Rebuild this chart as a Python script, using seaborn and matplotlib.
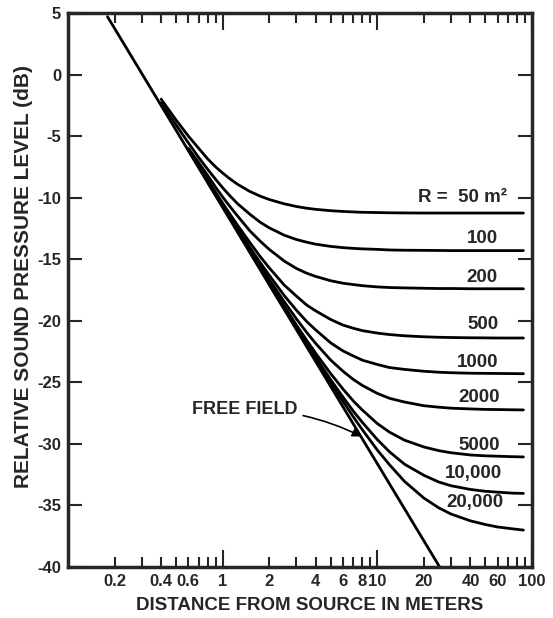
import numpy as np
import matplotlib
matplotlib.use("Agg")
import matplotlib.pyplot as plt
import seaborn as sns
import pandas as pd

dist = [0.2, 0.25, 0.3, 0.4, 0.5, 0.6, 0.7, 0.8, 0.9, 1, 1.1, 1.25, 1.5, 1.75, 2,
        2.5, 3, 3.5, 4, 5, 6, 7, 8, 10, 12, 15, 20, 25, 30, 40, 50, 60, 75, 88]

N = None
r50 = [N] * 3 + [-2.0, -3.7, -5.0, -6.0, -6.85, -7.5, -8.0, -8.42, -8.92, -9.5, -9.88,
                 -10.15, -10.5, -10.72, -10.86, -10.95, -11.06, -11.12, -11.16, -11.19,
                 -11.21, -11.23, -11.24, -11.25, -11.25, -11.25, -11.25, -11.25, -11.25,
                 -11.25, -11.25]
r100 = [N] * 3 + [-2.3, -4.1, -5.55, -6.74, -7.7, -8.51, -9.2, -9.78, -10.5, -11.35, -12.0,
                  -12.45, -13.05, -13.4, -13.62, -13.78, -13.96, -14.06, -14.12, -14.16,
                  -14.2, -14.25, -14.27, -14.28, -14.29, -14.3, -14.3, -14.3, -14.3,
                  -14.3, -14.3]
r200 = [N] * 5 + [-6.0, -7.16, -8.2, -9.15, -9.95, -10.63, -11.5, -12.7, -13.54, -14.2,
                  -15.15, -15.75, -16.14, -16.4, -16.75, -16.95, -17.06, -17.15, -17.25,
                  -17.3, -17.33, -17.36, -17.38, -17.38, -17.4, -17.4, -17.4, -17.4, -17.4]
r500 = [N] * 5 + [-6.1, -7.4, -8.55, -9.56, -10.45, -11.23, -12.25, -13.65, -14.79, -15.7,
                  -17.1, -18.0, -18.73, -19.2, -19.9, -20.35, -20.61, -20.8, -21.0,
                  -21.12, -21.22, -21.3, -21.34, -21.36, -21.38, -21.39, -21.4, -21.4, -21.4]
r1000 = [N] * 5 + [-6.15, -7.49, -8.65, -9.7, -10.6, -11.43, -12.5, -14.05, -15.28, -16.3,
                   -17.95, -19.15, -20.07, -20.75, -21.8, -22.45, -22.86, -23.2, -23.55,
                   -23.8, -23.95, -24.1, -24.18, -24.22, -24.26, -24.27, -24.28, -24.29,
                   -24.3]
r2000 = [N] * 7 + [-8.75, -9.77, -10.7, -11.54, -12.65, -14.25, -15.55, -16.65, -18.45,
                   -19.85, -20.96, -21.85, -23.2, -24.1, -24.77, -25.25, -25.9, -26.3,
                   -26.6, -26.9, -27.02, -27.1, -27.16, -27.2, -27.21, -27.23, -27.24]
r5000 = [N] * 11 + [-12.75, -14.35, -15.73, -16.9, -18.8, -20.35, -21.6, -22.65, -24.3,
                    -25.55, -26.52, -27.25, -28.35, -29.05, -29.7, -30.25, -30.55, -30.72,
                    -30.9, -30.97, -31.0, -31.04, -31.06]
r10000 = [N] * 12 + [-14.4, -15.8, -17.0, -18.95, -20.5, -21.85, -22.95, -24.8, -26.2,
                     -27.35, -28.25, -29.65, -30.65, -31.65, -32.55, -33.1, -33.4, -33.7,
                     -33.85, -33.92, -34.0, -34.02]
r20000 = [N] * 14 + [-17.05, -19.0, -20.6, -21.98, -23.15, -25.05, -26.55, -27.81, -28.85,
                     -30.5, -31.7, -33.05, -34.4, -35.2, -35.7, -36.25, -36.55, -36.75,
                     -36.9, -37.0]

# free field line (ends)
ff_dist = [0.18, 25.3]
ff_level = [4.7, -40.0]

curve_names = ["50", "100", "200", "500", "1000", "2000", "5000", "10000", "20000"]
curve_labels = ["R =  50 m\u00b2", "100", "200", "500", "1000", "2000", "5000",
                "10,000", "20,000"]
label_x = [69, 60, 60, 61, 61, 62, 62, 64, 65]
label_y = [-9.95, -13.3, -16.45, -20.3, -23.35, -26.2, -30.1, -32.4, -34.8]

xticks_major = [1, 10, 100]
xticks_minor = [0.2, 0.3, 0.4, 0.5, 0.6, 0.7, 0.8, 0.9, 2, 3, 4, 5, 6, 7, 8, 9,
                20, 30, 40, 50, 60, 70, 80, 90]
xlabels_minor = ["0.2", "", "0.4", "", "0.6", "", "", "", "2", "", "4", "", "6", "",
                 "8", "", "20", "", "40", "", "60", "", "", ""]
yticks = [-40, -35, -30, -25, -20, -15, -10, -5, 0, 5]

sns.set_style("ticks")
plt.rcParams["font.family"] = ["Liberation Sans", "DejaVu Sans"]
plt.rcParams["font.weight"] = "bold"
plt.rcParams["axes.unicode_minus"] = False

series = [r50, r100, r200, r500, r1000, r2000, r5000, r10000, r20000]
df = pd.DataFrame({name: vals for name, vals in zip(curve_names, series)})
df["dist"] = dist
long = df.melt(id_vars="dist", var_name="R", value_name="level").dropna()
ff = pd.DataFrame({"dist": ff_dist, "level": ff_level})

fig = plt.figure(figsize=(5.53, 6.18), dpi=100)
ax = fig.add_axes([0.123, 0.0825, 0.839, 0.8965])

sns.lineplot(data=long, x="dist", y="level", units="R", estimator=None,
             color="black", linewidth=2.0, ax=ax, legend=False)
sns.lineplot(data=ff, x="dist", y="level", color="black", linewidth=2.0, ax=ax)

ax.set_xscale("log")
ax.set_xlim(0.1, 100)
ax.set_ylim(-40, 5)

ax.set_xticks(xticks_major, labels=["1", "10", "100"])
ax.set_xticks(xticks_minor, labels=xlabels_minor, minor=True)
ax.set_yticks(yticks, labels=[str(v) for v in yticks])
ax.tick_params(axis="both", which="both", direction="in", top=True, right=True,
               labelsize=12, width=1.5, pad=5)
ax.tick_params(axis="x", which="major", length=12)
ax.tick_params(axis="x", which="minor", length=7)
ax.tick_params(axis="y", which="major", length=10)
for lab in ax.get_xticklabels(minor=True) + ax.get_xticklabels() + ax.get_yticklabels():
    lab.set_fontweight("bold")

for sp in ax.spines.values():
    sp.set_linewidth(2.5)

ax.set_xlabel("DISTANCE FROM SOURCE IN METERS", fontsize=13.5, fontweight="bold", labelpad=6)
ax.set_ylabel("RELATIVE SOUND PRESSURE LEVEL (dB)", fontsize=15, fontweight="bold", labelpad=3)
ax.xaxis.label.set_x(0.52)
ax.yaxis.label.set_y(0.525)

for txt, lx, ly in zip(curve_labels, label_x, label_y):
    ax.text(lx, ly, txt, ha="right", va="center", fontsize=13.5, fontweight="bold")

ax.annotate("FREE FIELD", xy=(7.9, -29.4), xytext=(0.63, -27.2),
            fontsize=13, fontweight="bold", ha="left", va="center",
            arrowprops=dict(arrowstyle="-|>", color="black", lw=1.2,
                            connectionstyle="arc3,rad=-0.12", shrinkA=2, shrinkB=0))

fig.savefig("out.png", dpi=100)
